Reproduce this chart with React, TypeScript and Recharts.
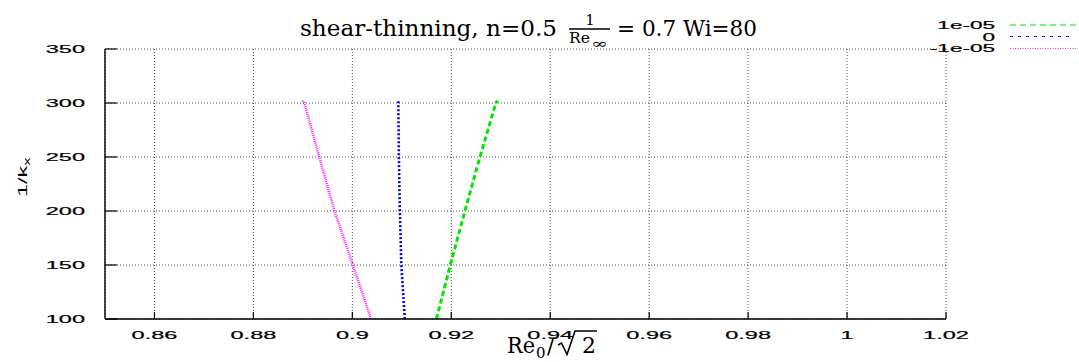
import React from 'react';
import { LineChart, Line, XAxis, YAxis, CartesianGrid, Customized } from 'recharts';

// ---- data ----
const xTicks = [0.86, 0.88, 0.9, 0.92, 0.94, 0.96, 0.98, 1.0, 1.02];
const yTicks = [100, 150, 200, 250, 300, 350];
const yLevels = [100, 150, 200, 250, 300, 302];
const rePlus = [0.917, 0.9198, 0.92275, 0.9258, 0.929, 0.9294];
const reZero = [0.9106, 0.9099, 0.9096, 0.9094, 0.9093, 0.9093];
const reMinus = [0.9038, 0.9001, 0.8964, 0.8933, 0.8903, 0.8899];
const seriesLabels = ['1e-05', '0', '-1e-05'];
const seriesColors = ['#00e600', '#0000ff', '#ff22ff'];

const toPoints = (xs: number[]) => xs.map((x, i) => ({ x, y: yLevels[i] }));
const dataPlus = toPoints(rePlus);
const dataZero = toPoints(reZero);
const dataMinus = toPoints(reMinus);

const SANS = 'Liberation Sans, Arial, sans-serif';
const SERIF = 'DejaVu Serif, serif';

const fmt = (v: number) => String(parseFloat(Number(v).toFixed(2)));

const XTick = (props: any) => {
  const { x, payload } = props;
  return (
    <text
      transform={`translate(${x},339) scale(2.05,1)`}
      textAnchor="middle"
      fontFamily={SANS}
      fontSize={11.5}
      fill="#000"
      stroke="#000"
      strokeWidth={0.2}
    >
      {fmt(payload.value)}
    </text>
  );
};

const YTick = (props: any) => {
  const { y, payload } = props;
  return (
    <text
      transform={`translate(85,${y + 4}) scale(2.05,1)`}
      textAnchor="end"
      fontFamily={SANS}
      fontSize={11.5}
      fill="#000"
      stroke="#000"
      strokeWidth={0.2}
    >
      {fmt(payload.value)}
    </text>
  );
};

const Overlay = () => (
  <g>
    {/* title */}
    <text x={300} y={36} fontFamily={SERIF} fontSize={23} fill="#000" textLength={257} lengthAdjust="spacingAndGlyphs">
      shear-thinning, n=0.5
    </text>
    <text x={590} y={25} fontFamily={SERIF} fontSize={15} textAnchor="middle" fill="#000">
      1
    </text>
    <line x1={569} x2={610} y1={29} y2={29} stroke="#000" strokeWidth={1.5} />
    <text x={569} y={43} fontFamily={SERIF} fontSize={15} fill="#000" textLength={21} lengthAdjust="spacingAndGlyphs">
      Re
    </text>
    <text x={591} y={48} fontFamily={SERIF} fontSize={13} fill="#000" textLength={17} lengthAdjust="spacingAndGlyphs">
      ∞
    </text>
    <text x={617} y={36} fontFamily={SERIF} fontSize={23} fill="#000" textLength={140} lengthAdjust="spacingAndGlyphs">
      = 0.7 Wi=80
    </text>

    {/* x label */}
    <text x={507} y={353} fontFamily={SERIF} fontSize={22} fill="#000" textLength={28} lengthAdjust="spacingAndGlyphs">
      Re
    </text>
    <text x={536} y={358} fontFamily={SERIF} fontSize={15} fill="#000">
      0
    </text>
    <text x={547} y={353} fontFamily={SERIF} fontSize={22} fill="#000">
      /
    </text>
    <polyline
      points="558,345 561.5,343 567,354.5 575,331 597,331"
      fill="none"
      stroke="#000"
      strokeWidth={1.6}
      strokeLinejoin="miter"
    />
    <text x={582} y={353} fontFamily={SERIF} fontSize={22} fill="#000">
      2
    </text>

    {/* y label */}
    <text transform="translate(27,177) rotate(-90) scale(1.8,1)" textAnchor="middle" fontFamily={SANS} fontSize={13} fill="#000">
      1/k
      <tspan fontSize={9.5} dy={3}>x</tspan>
    </text>

    {/* legend */}
    {seriesLabels.map((lab, i) => (
      <text
        key={lab}
        transform={`translate(995,${29 + i * 11.5}) scale(2.05,1)`}
        textAnchor="end"
        fontFamily={SANS}
        fontSize={11}
        fill="#000"
        stroke="#000"
        strokeWidth={0.2}
      >
        {lab}
      </text>
    ))}
    <line x1={1010} x2={1077} y1={25} y2={25} stroke={seriesColors[0]} strokeWidth={1.2} strokeDasharray="6 4" />
    <line x1={1010} x2={1074} y1={36.5} y2={36.5} stroke={seriesColors[1]} strokeWidth={1.2} strokeDasharray="3 5" />
    <line x1={1010} x2={1076} y1={48.5} y2={48.5} stroke={seriesColors[2]} strokeWidth={1.2} strokeDasharray="1 1.5" />
  </g>
);

export default function App() {
  return (
    <div style={{ position: 'absolute', left: 0, top: 0, background: '#fff' }}>
      <LineChart
        width={1079}
        height={362}
        margin={{ top: 49, right: 133, bottom: 13, left: 45 }}
      >
        <CartesianGrid stroke="#222" strokeWidth={0.8} strokeDasharray="1 2" />
        <XAxis
          type="number"
          dataKey="x"
          domain={[0.85, 1.02]}
          ticks={xTicks}
          allowDataOverflow
          height={30}
          tick={<XTick />}
          tickSize={-7}
          axisLine={{ stroke: '#000', strokeWidth: 1.4 }}
          tickLine={{ stroke: '#000', strokeWidth: 1.2 }}
        />
        <XAxis
          xAxisId="top"
          orientation="top"
          type="number"
          dataKey="x"
          domain={[0.85, 1.02]}
          ticks={xTicks}
          allowDataOverflow
          height={0}
          tick={false}
          tickSize={-7}
          axisLine={{ stroke: '#000', strokeWidth: 1.4 }}
          tickLine={{ stroke: '#000', strokeWidth: 1.2 }}
        />
        <YAxis
          type="number"
          dataKey="y"
          domain={[100, 350]}
          ticks={yTicks}
          allowDataOverflow
          width={60}
          tick={<YTick />}
          tickSize={-12}
          axisLine={{ stroke: '#000', strokeWidth: 1.4 }}
          tickLine={{ stroke: '#000', strokeWidth: 1.2 }}
        />
        <YAxis
          yAxisId="right"
          orientation="right"
          type="number"
          domain={[100, 350]}
          ticks={yTicks}
          allowDataOverflow
          width={0}
          tick={false}
          tickSize={-12}
          axisLine={{ stroke: '#000', strokeWidth: 1.4 }}
          tickLine={{ stroke: '#000', strokeWidth: 1.2 }}
        />
        <Line
          data={dataPlus}
          dataKey="y"
          stroke={seriesColors[0]}
          strokeWidth={3}
          strokeDasharray="5 3"
          dot={false}
          isAnimationActive={false}
        />
        <Line
          data={dataZero}
          dataKey="y"
          stroke={seriesColors[1]}
          strokeWidth={2.6}
          strokeDasharray="2 2"
          dot={false}
          isAnimationActive={false}
        />
        <Line
          data={dataMinus}
          dataKey="y"
          stroke={seriesColors[2]}
          strokeWidth={2.6}
          strokeDasharray="1 1"
          dot={false}
          isAnimationActive={false}
        />
        <Customized component={Overlay} />
      </LineChart>
    </div>
  );
}
